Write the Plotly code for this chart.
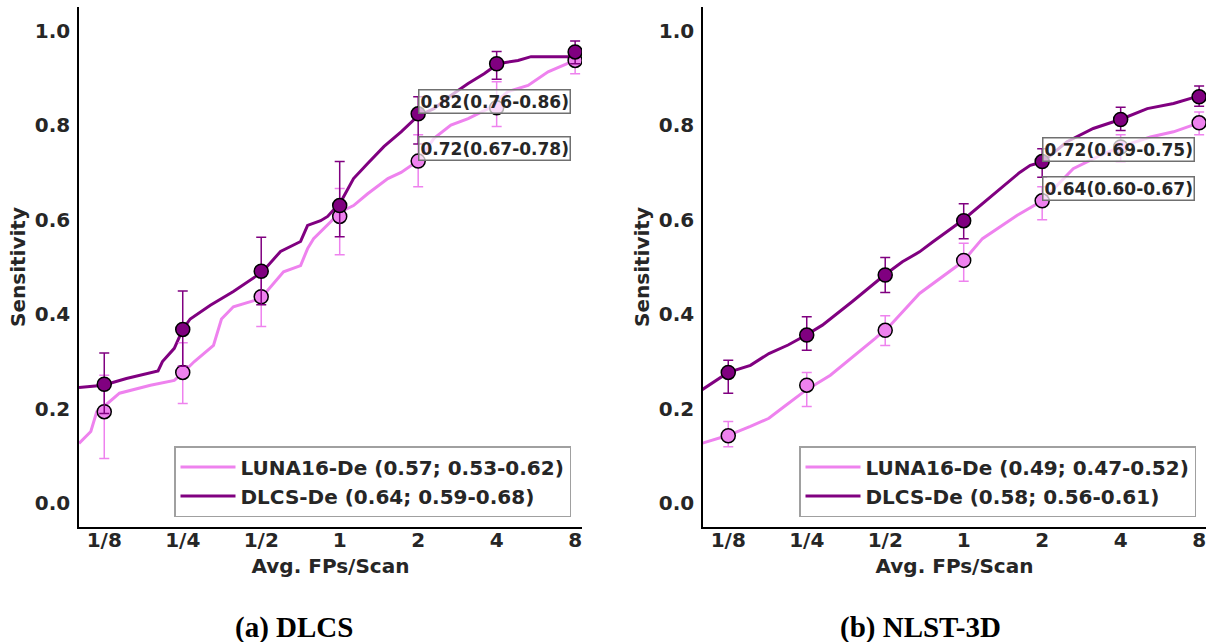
import math
import plotly.graph_objects as go

# ---------------- data ----------------
fp_ticks = [0.125, 0.25, 0.5, 1, 2, 4, 8]
fp_tick_text = ["1/8", "1/4", "1/2", "1", "2", "4", "8"]
sens_ticks = [0.0, 0.2, 0.4, 0.6, 0.8, 1.0]

series_names = ["LUNA16-De", "DLCS-De"]

# (a) DLCS test set -- operating points with 95% CI
a_luna_sens = [0.194, 0.277, 0.437, 0.607, 0.724, 0.837, 0.937]
a_luna_lo = [0.095, 0.211, 0.374, 0.526, 0.67, 0.797, 0.909]
a_luna_hi = [0.271, 0.340, 0.500, 0.666, 0.78, 0.892, 0.962]
a_dlcs_sens = [0.252, 0.368, 0.491, 0.630, 0.824, 0.930, 0.955]
a_dlcs_lo = [0.190, 0.290, 0.420, 0.564, 0.76, 0.897, 0.930]
a_dlcs_hi = [0.318, 0.449, 0.563, 0.723, 0.86, 0.956, 0.978]
a_cpm = [(0.57, 0.53, 0.62), (0.64, 0.59, 0.68)]

# (a) FROC curves
a_luna_curve_fp = [0.100, 0.111, 0.117, 0.126, 0.143, 0.188, 0.232, 0.249, 0.277, 0.328,
                   0.352, 0.391, 0.497, 0.609, 0.708, 0.753, 0.794, 1.01, 1.13, 1.28,
                   1.53, 1.72, 2.0, 2.30, 2.67, 3.11, 3.71, 4.42, 5.28, 6.30, 7.73, 8.0]
a_luna_curve_s = [0.127, 0.152, 0.194, 0.207, 0.233, 0.250, 0.260, 0.275, 0.300, 0.334,
                  0.390, 0.416, 0.433, 0.490, 0.503, 0.539, 0.560, 0.617, 0.630, 0.655,
                  0.687, 0.700, 0.725, 0.772, 0.800, 0.814, 0.835, 0.871, 0.884, 0.913, 0.934, 0.937]
a_dlcs_curve_fp = [0.100, 0.124, 0.152, 0.188, 0.201, 0.209, 0.232, 0.250, 0.267, 0.319,
                   0.391, 0.506, 0.593, 0.708, 0.753, 0.845, 0.899, 1.01, 1.13, 1.28,
                   1.48, 1.72, 2.0, 2.30, 2.67, 3.11, 3.58, 4.05, 4.83, 5.42, 8.0]
a_dlcs_curve_s = [0.245, 0.250, 0.264, 0.275, 0.280, 0.300, 0.328, 0.368, 0.390, 0.419,
                  0.448, 0.490, 0.533, 0.554, 0.588, 0.598, 0.607, 0.638, 0.687, 0.719,
                  0.755, 0.786, 0.820, 0.835, 0.863, 0.888, 0.909, 0.930, 0.937, 0.945, 0.945]

# (b) NLST-3D test set -- operating points with 95% CI
b_luna_sens = [0.143, 0.250, 0.366, 0.514, 0.640, 0.754, 0.805]
b_luna_lo = [0.120, 0.205, 0.334, 0.470, 0.60, 0.723, 0.780]
b_luna_hi = [0.173, 0.277, 0.397, 0.550, 0.67, 0.780, 0.828]
b_dlcs_sens = [0.277, 0.356, 0.483, 0.598, 0.723, 0.812, 0.860]
b_dlcs_lo = [0.233, 0.324, 0.446, 0.560, 0.69, 0.789, 0.840]
b_dlcs_hi = [0.303, 0.395, 0.520, 0.634, 0.75, 0.838, 0.883]
b_cpm = [(0.49, 0.47, 0.52), (0.58, 0.56, 0.61)]

# (b) FROC curves
b_luna_curve_fp = [0.099, 0.125, 0.152, 0.179, 0.205, 0.249, 0.308, 0.377, 0.458, 0.523,
                   0.677, 0.991, 1.18, 1.60, 2.0, 2.63, 3.34, 3.99, 5.20, 6.38, 8.0]
b_luna_curve_s = [0.127, 0.144, 0.163, 0.180, 0.205, 0.240, 0.271, 0.310, 0.349, 0.377,
                  0.444, 0.511, 0.560, 0.609, 0.640, 0.708, 0.736, 0.754, 0.775, 0.786, 0.805]
b_dlcs_curve_fp = [0.099, 0.125, 0.152, 0.179, 0.212, 0.249, 0.287, 0.374, 0.497, 0.582,
                   0.677, 0.760, 0.991, 1.29, 1.64, 1.80, 2.0, 2.49, 3.14, 3.99, 5.06,
                   6.38, 7.22, 8.0]
b_dlcs_curve_s = [0.240, 0.277, 0.292, 0.317, 0.335, 0.356, 0.377, 0.427, 0.483, 0.511,
                  0.532, 0.553, 0.599, 0.652, 0.700, 0.715, 0.722, 0.765, 0.793, 0.812, 0.835,
                  0.846, 0.855, 0.862]

captions = ["(a) DLCS", "(b) NLST-3D"]

# ---------------- style ----------------
COL_LUNA = "#EE82EE"
COL_DLCS = "#800080"
TXT = "#262626"
FONT = "DejaVu Sans"
W, H = 1211, 642

x_range = [math.log10(0.1), math.log10(8.5)]
y_range = [-0.05, 1.05]

panels = [
    dict(xd=[79 / W, 582 / W], xa="x", ya="y", leg="legend",
         curves=[(a_luna_curve_fp, a_luna_curve_s), (a_dlcs_curve_fp, a_dlcs_curve_s)],
         pts=[(a_luna_sens, a_luna_lo, a_luna_hi), (a_dlcs_sens, a_dlcs_lo, a_dlcs_hi)],
         cpm=a_cpm, cap_x=294),
    dict(xd=[703 / W, 1206 / W], xa="x2", ya="y2", leg="legend2",
         curves=[(b_luna_curve_fp, b_luna_curve_s), (b_dlcs_curve_fp, b_dlcs_curve_s)],
         pts=[(b_luna_sens, b_luna_lo, b_luna_hi), (b_dlcs_sens, b_dlcs_lo, b_dlcs_hi)],
         cpm=b_cpm, cap_x=920),
]
colors = [COL_LUNA, COL_DLCS]

fig = go.Figure()
annotations = []
y_dom = [1 - 527 / H, 1 - 7 / H]

for p_i, p in enumerate(panels):
    # curves (legend entries)
    for s_i, (cfp, cs) in enumerate(p["curves"]):
        c = p["cpm"][s_i]
        fig.add_trace(go.Scatter(
            x=cfp, y=cs, mode="lines", xaxis=p["xa"], yaxis=p["ya"],
            line=dict(color=colors[s_i], width=3),
            name=f"{series_names[s_i]} ({c[0]:.2f}; {c[1]:.2f}-{c[2]:.2f})",
            legend=p["leg"], showlegend=True, hoverinfo="skip"))
    # operating points with CI
    for s_i, (sv, lo, hi) in enumerate(p["pts"]):
        fig.add_trace(go.Scatter(
            x=fp_ticks, y=sv, mode="markers", xaxis=p["xa"], yaxis=p["ya"],
            marker=dict(color=colors[s_i], size=14, line=dict(color="black", width=1.5)),
            error_y=dict(type="data", symmetric=False,
                         array=[h - v for h, v in zip(hi, sv)],
                         arrayminus=[v - l for v, l in zip(sv, lo)],
                         color=colors[s_i], thickness=1.5, width=5),
            showlegend=False, legend=p["leg"]))
    # annotation boxes at 2 FPs/scan
    idx = fp_ticks.index(2)
    for s_i, (sv, lo, hi) in enumerate(p["pts"]):
        annotations.append(dict(
            x=math.log10(fp_ticks[idx]), y=sv[idx], xref=p["xa"], yref=p["ya"],
            text=f"{sv[idx]:.2f}({lo[idx]:.2f}-{hi[idx]:.2f})",
            showarrow=False, xanchor="left", yanchor="bottom",
            font=dict(family=FONT, size=17, color=TXT, weight="bold"),
            bgcolor="rgba(255,255,255,0.7)", bordercolor="#707070",
            borderwidth=1.5, borderpad=1))
    # caption
    annotations.append(dict(
        x=p["cap_x"] / W, y=1 - 627 / H, xref="paper", yref="paper",
        text=captions[p_i], showarrow=False, xanchor="center", yanchor="middle",
        font=dict(family="Liberation Serif", size=29, color="black", weight="bold")))

axis_font = dict(family=FONT, size=20, color=TXT, weight="bold")
common_x = dict(type="log", range=x_range, tickvals=fp_ticks, ticktext=fp_tick_text,
                showline=True, linecolor="black", linewidth=1.5, mirror=False,
                showgrid=False, zeroline=False, ticks="", ticklabelstandoff=-6,
                tickfont=axis_font,
                title=dict(text="Avg. FPs/Scan", font=axis_font, standoff=8))
common_y = dict(range=y_range, tickvals=sens_ticks, tickformat=".1f",
                showline=True, linecolor="black", linewidth=1.5, mirror=False,
                showgrid=False, zeroline=False, ticks="outside", ticklen=3,
                tickcolor="rgba(0,0,0,0)", tickfont=axis_font,
                title=dict(text="Sensitivity", font=axis_font, standoff=4))

legend_common = dict(xanchor="right", yanchor="bottom", y=1 - 517 / H,
                     bgcolor="rgba(255,255,255,0.8)", bordercolor="#A0A0A0", borderwidth=1.5,
                     font=dict(family=FONT, size=20, color=TXT, weight="bold"),
                     tracegroupgap=0, itemwidth=55)

fig.update_layout(
    width=W, height=H, margin=dict(l=0, r=0, t=0, b=0),
    paper_bgcolor="white", plot_bgcolor="white",
    xaxis=dict(domain=panels[0]["xd"], anchor="y", **common_x),
    yaxis=dict(domain=y_dom, anchor="x", **common_y),
    xaxis2=dict(domain=panels[1]["xd"], anchor="y2", **common_x),
    yaxis2=dict(domain=y_dom, anchor="x2", **common_y),
    legend=dict(x=571 / W, **legend_common),
    legend2=dict(x=1196 / W, **legend_common),
    annotations=annotations,
    showlegend=True,
)

fig.write_html("out.html")
